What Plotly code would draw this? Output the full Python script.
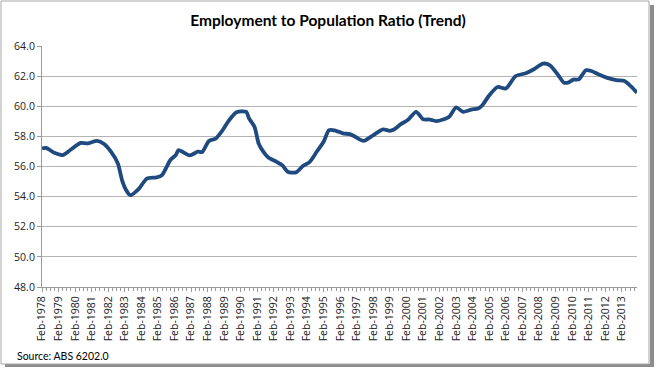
import plotly.graph_objects as go

# Data (month, ratio %)
months = [
    "1978-02", "1978-05", "1978-11", "1979-05", "1979-11", "1980-06", "1980-11",
    "1981-06", "1981-11", "1982-04", "1982-09", "1982-12", "1983-03", "1983-06",
    "1983-12", "1984-06", "1985-01", "1985-05", "1985-11", "1986-03", "1986-05",
    "1987-01", "1987-07", "1987-10", "1988-03", "1988-08", "1988-12", "1989-06",
    "1989-11", "1990-06", "1990-08", "1990-12", "1991-03", "1991-06", "1991-10",
    "1992-04", "1992-08", "1992-12", "1993-06", "1993-11", "1994-04", "1994-09",
    "1995-02", "1995-06", "1995-11", "1996-04", "1996-09", "1996-12", "1997-07",
    "1998-02", "1998-09", "1999-02", "1999-05", "1999-10", "2000-03", "2000-09",
    "2001-02", "2001-07", "2001-12", "2002-04", "2002-09", "2003-02", "2003-07",
    "2004-01", "2004-06", "2004-09", "2005-02", "2005-08", "2006-02", "2006-09",
    "2007-05", "2007-10", "2008-05", "2008-10", "2009-04", "2009-08", "2009-11",
    "2010-03", "2010-07", "2010-12", "2011-04", "2011-09", "2012-03", "2012-10",
    "2013-04", "2013-09", "2014-01",
]
ratio = [
    57.2, 57.24, 56.91, 56.76, 57.13, 57.57, 57.53,
    57.70, 57.49, 56.98, 56.2, 55.1, 54.44, 54.1,
    54.5, 55.2, 55.28, 55.43, 56.43, 56.76, 57.09,
    56.74, 56.98, 56.96, 57.7, 57.86, 58.3, 59.12,
    59.6, 59.62, 59.19, 58.63, 57.53, 57.04, 56.6,
    56.31, 56.09, 55.65, 55.61, 56.03, 56.31, 56.98,
    57.64, 58.41, 58.37, 58.2, 58.15, 58.02, 57.7,
    58.08, 58.46, 58.37, 58.46, 58.81, 59.08, 59.63,
    59.14, 59.12, 59.01, 59.1, 59.3, 59.92, 59.63,
    59.78, 59.85, 60.07, 60.73, 61.28, 61.18, 61.99,
    62.21, 62.44, 62.83, 62.72, 62.06, 61.57, 61.57,
    61.77, 61.79, 62.39, 62.34, 62.12, 61.9, 61.73,
    61.68, 61.28, 60.89,
]
dates = [m + "-01" for m in months]

title_text = "Employment to Population Ratio (Trend)"
source_text = "Source: ABS 6202.0"

W, H = 656, 368
L, R, T, B = 42, 19, 46, 81
pw, ph = W - L - R, H - T - B

def px(x):
    return (x - L) / pw

def py(y):
    return (H - B - y) / ph

fig = go.Figure()
fig.add_trace(go.Scatter(
    x=dates, y=ratio, mode="lines",
    line=dict(color="#1F4A80", width=3.8, shape="spline", smoothing=0.7),
    hoverinfo="skip", showlegend=False,
))

grid = "#b4b4b4"
fig.update_layout(
    width=W, height=H,
    margin=dict(l=L, r=R, t=T, b=B),
    paper_bgcolor="white", plot_bgcolor="white",
    title=dict(text="<b>" + title_text + "</b>", x=0.5, xanchor="center",
               y=1 - 21 / H, yanchor="middle",
               font=dict(family="Lato", size=15.5, color="black")),
    xaxis=dict(
        type="date", range=["1978-02-01", "2014-01-01"],
        tick0="1978-02-01", dtick="M12", tickformat="%b-%Y",
        tickangle=-90, ticks="outside", ticklen=4, tickcolor="#9a9a9a",
        showgrid=False, showline=True, linecolor="#9a9a9a", linewidth=1,
        tickfont=dict(family="Open Sans", size=10.5, color="#222222"),
        minor=dict(dtick="M3", tick0="1978-02-01", ticks="outside", ticklen=3,
                   tickcolor="#9a9a9a", showgrid=False),
        fixedrange=True,
    ),
    yaxis=dict(
        range=[48, 64], dtick=2, tick0=48, tickformat=".1f",
        ticks="outside", ticklen=4, tickcolor="#9a9a9a",
        showgrid=True, gridcolor=grid, gridwidth=1,
        showline=True, linecolor="#9a9a9a", linewidth=1,
        zeroline=False,
        tickfont=dict(family="Open Sans", size=10.5, color="#222222"),
        fixedrange=True,
    ),
)

# source note
fig.add_annotation(
    text=source_text, xref="paper", yref="paper",
    x=px(15), y=py(356), xanchor="left", yanchor="middle", showarrow=False,
    font=dict(family="Lato", size=10.5, color="black"),
)

# frame with shadow
shapes = [
    dict(type="rect", xref="paper", yref="paper", x0=px(650), x1=px(654),
         y0=py(366), y1=py(5), fillcolor="#8c8c8c", line=dict(width=0), layer="below"),
    dict(type="rect", xref="paper", yref="paper", x0=px(5), x1=px(654),
         y0=py(367), y1=py(364), fillcolor="#8c8c8c", line=dict(width=0), layer="below"),
    dict(type="rect", xref="paper", yref="paper", x0=px(1), x1=px(649),
         y0=py(364), y1=py(1), fillcolor="rgba(0,0,0,0)",
         line=dict(color="#a6a6a6", width=1)),
]
fig.update_layout(shapes=shapes)

fig.write_html(
    "out.html",
    config={"displayModeBar": False, "staticPlot": True},
    post_script="document.body.style.margin='0';document.body.style.overflow='hidden';",
)
